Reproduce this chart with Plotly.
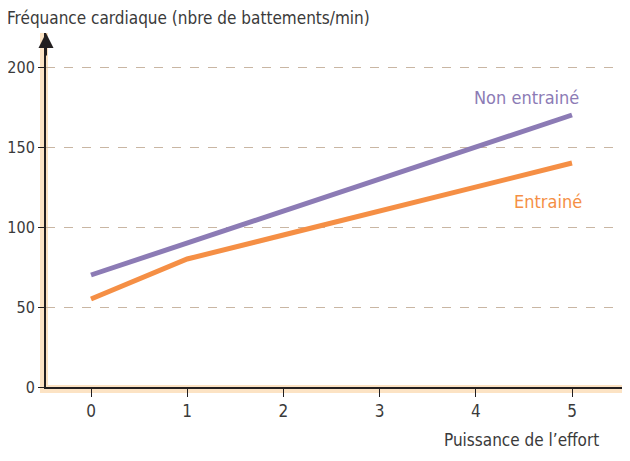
import plotly.graph_objects as go

effort = [0, 1, 2, 3, 4, 5]
non_entraine = [70, 90, 110, 130, 150, 170]
entraine = [55, 80, 95, 110, 125, 140]
y_ticks = [0, 50, 100, 150, 200]

PURPLE = "#8C7BB5"
ORANGE = "#F58F45"
PEACH = "#FCE3C4"
AXIS = "#231F20"
TXT = "#3A3A3A"
FONT = "DejaVu Sans Condensed, Liberation Sans Narrow, sans-serif"

# page has an 8px body margin: figure drawn at (8, 8)
OFF = 8
W, H = 630 - OFF, 461 - OFF
ml, mr, mt, mb = 46 - OFF, 8, 33 - OFF, 74
pw, ph = W - ml - mr, H - mt - mb
px_per_x = 96.2
x0 = -45 / px_per_x
x1 = x0 + pw / px_per_x
y1 = ph / 1.6

fig = go.Figure()
fig.add_trace(go.Scatter(x=effort, y=non_entraine, mode="lines",
                         line=dict(color=PURPLE, width=5), showlegend=False,
                         cliponaxis=False))
fig.add_trace(go.Scatter(x=effort, y=entraine, mode="lines",
                         line=dict(color=ORANGE, width=5), showlegend=False,
                         cliponaxis=False))

# peach shadows along axes
fig.add_shape(type="rect", xref="paper", yref="paper", layer="below",
              x0=-6 / pw, x1=2 / pw, y0=-6 / ph, y1=1.0,
              fillcolor=PEACH, line_width=0)
fig.add_shape(type="rect", xref="paper", yref="paper", layer="below",
              x0=-6 / pw, x1=1.0, y0=-6 / ph, y1=2 / ph,
              fillcolor=PEACH, line_width=0)

# arrow on top of y axis
fig.add_annotation(x=x0, y=y1, xref="x", yref="y", ax=0, ay=24, text="",
                   showarrow=True, arrowhead=2, arrowsize=1.5, arrowwidth=2,
                   arrowcolor=AXIS)

fig.add_annotation(x=(5 - 46) / pw, y=1 + (33 - 18) / ph, xref="paper", yref="paper",
                   xanchor="left", yanchor="middle", showarrow=False,
                   text="Fréquance cardiaque (nbre de battements/min)",
                   font=dict(family=FONT, size=17, color=TXT))
fig.add_annotation(x=(601 - 46) / pw, y=-(440 - 387) / ph, xref="paper", yref="paper",
                   xanchor="right", yanchor="middle", showarrow=False,
                   text="Puissance de l’effort",
                   font=dict(family=FONT, size=17, color=TXT))
fig.add_annotation(x=4.53, y=181, xref="x", yref="y", showarrow=False,
                   text="Non entrainé", font=dict(family=FONT, size=18, color=PURPLE))
fig.add_annotation(x=4.75, y=116, xref="x", yref="y", showarrow=False,
                   text="Entrainé", font=dict(family=FONT, size=18, color=ORANGE))

fig.update_xaxes(range=[x0, x1], tickvals=effort, ticktext=[str(v) for v in effort],
                 showgrid=False, zeroline=False, showline=True, linewidth=2,
                 linecolor=AXIS, ticks="outside", ticklen=8, tickwidth=1,
                 tickcolor=AXIS, tickfont=dict(family=FONT, size=17, color=TXT),
                 fixedrange=True)
fig.update_yaxes(range=[0, y1], tickvals=y_ticks, ticktext=[str(v) for v in y_ticks],
                 showgrid=True, gridcolor="#C9B6A3", gridwidth=1, griddash="dash",
                 zeroline=False, showline=True, linewidth=2, linecolor=AXIS,
                 ticks="outside", ticklen=6, tickwidth=1, tickcolor=AXIS,
                 tickfont=dict(family=FONT, size=16, color=TXT), fixedrange=True)

fig.update_layout(width=W, height=H, margin=dict(l=ml, r=mr, t=mt, b=mb, autoexpand=False),
                  paper_bgcolor="white", plot_bgcolor="white", showlegend=False)

fig.write_html("out.html", config={"displayModeBar": False})
